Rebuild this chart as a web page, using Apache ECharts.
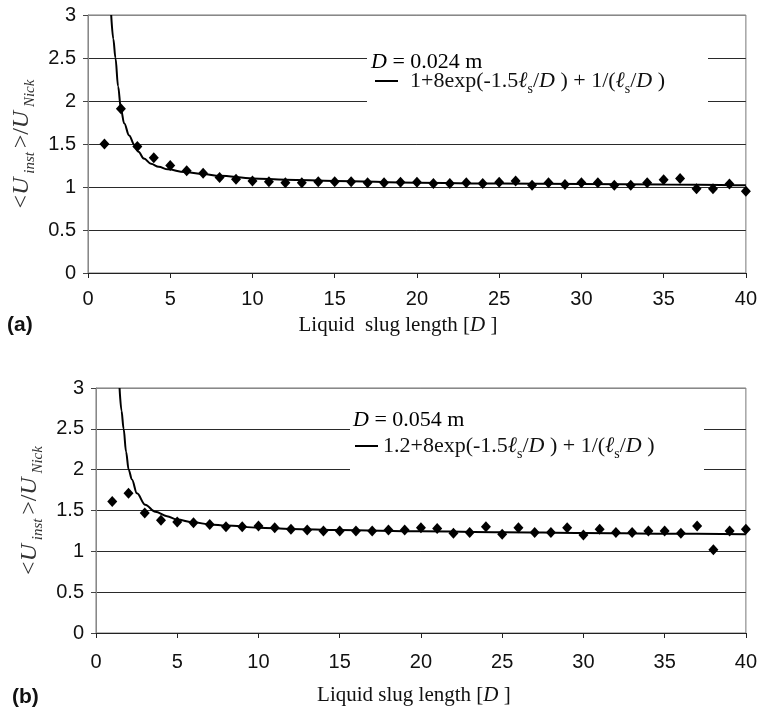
<!DOCTYPE html>
<html>
<head>
<meta charset="utf-8">
<style>
  html, body { margin: 0; padding: 0; background: #fff; }
  #chart { width: 760px; height: 713px; }
</style>
<script src="https://cdn.jsdelivr.net/npm/echarts@6/dist/echarts.min.js"></script>
</head>
<body>
<div id="chart"></div>
<script>
// Liquid slug length in pipe diameters (measurement stations)
const slugLength = [1, 2, 3, 4, 5, 6, 7, 8, 9, 10, 11, 12, 13, 14, 15, 16, 17, 18, 19, 20,
                    21, 22, 23, 24, 25, 26, 27, 28, 29, 30, 31, 32, 33, 34, 35, 36, 37, 38, 39, 40];

// <U_inst>/U_Nick, D = 0.024 m
const ratioA = [1.50, 1.91, 1.47, 1.34, 1.25, 1.19, 1.16, 1.11, 1.09, 1.07,
                1.06, 1.05, 1.05, 1.06, 1.06, 1.06, 1.05, 1.05, 1.055, 1.055,
                1.04, 1.04, 1.05, 1.04, 1.055, 1.07, 1.02, 1.05, 1.03, 1.05,
                1.05, 1.02, 1.02, 1.05, 1.085, 1.10, 0.98, 0.98, 1.035, 0.95];

// <U_inst>/U_Nick, D = 0.054 m
const ratioB = [1.61, 1.71, 1.47, 1.38, 1.36, 1.35, 1.33, 1.30, 1.30, 1.31,
                1.29, 1.27, 1.26, 1.25, 1.25, 1.25, 1.25, 1.26, 1.26, 1.29,
                1.28, 1.22, 1.23, 1.30, 1.21, 1.29, 1.23, 1.23, 1.29, 1.20,
                1.27, 1.23, 1.23, 1.25, 1.25, 1.22, 1.31, 1.02, 1.25, 1.27];

// Correlation curves, sampled along the slug length
const fitA = [[1.41, 3.0], [1.54, 2.72], [1.67, 2.5], [1.83, 2.17], [2.0, 1.91], [2.2, 1.74],
              [2.5, 1.60], [2.82, 1.49], [3.07, 1.41], [3.4, 1.33], [3.83, 1.27], [4.3, 1.235],
              [4.85, 1.205], [5.86, 1.174], [7, 1.15], [8, 1.13], [10, 1.10], [12, 1.085],
              [15, 1.07], [20, 1.05], [25, 1.04], [30, 1.035], [35, 1.03], [40, 1.02]];
const fitB = [[1.45, 3.0], [1.57, 2.72], [1.70, 2.5], [1.85, 2.22], [2.01, 2.0], [2.21, 1.88],
              [2.52, 1.71], [3.03, 1.57], [3.65, 1.485], [4.37, 1.43], [4.98, 1.39], [6.0, 1.355],
              [7.03, 1.33], [8, 1.315], [10, 1.29], [12, 1.275], [15, 1.26], [20, 1.245],
              [25, 1.235], [30, 1.225], [35, 1.215], [40, 1.21]];

// Axis ticks
const xTicks = [0, 5, 10, 15, 20, 25, 30, 35, 40];
const yTicks = [0, 0.5, 1, 1.5, 2, 2.5, 3];

const fitNameA = '1+8exp(-1.5ls/D) + 1/(ls/D)';
const fitNameB = '1.2+8exp(-1.5ls/D) + 1/(ls/D)';

const serif = '"Liberation Serif", "Times New Roman", serif';
const sans = '"Liberation Sans", Arial, sans-serif';

const richMath = {
  n: { fontFamily: serif, fontSize: 22, color: '#111', lineHeight: 30 },
  p: { fontFamily: serif, fontSize: 22, color: '#111', lineHeight: 30, padding: [0, 0, 0, 7] },
  i: { fontFamily: serif, fontSize: 22, fontStyle: 'italic', color: '#111', lineHeight: 30 },
  s: { fontFamily: serif, fontSize: 14, color: '#111', verticalAlign: 'bottom', lineHeight: 14 }
};

function fitLabel(prefix, style) {
  return '{' + style + '|' + prefix + '8exp(-1.5}{i|ℓ}{s|s}{n|/}{i|D}{n| ) + 1/(}{i|ℓ}{s|s}{n|/}{i|D}{n| )}';
}

const yName = '{n|<}{i|U}{s| inst }{n|>/}{i|U}{s| Nick}';
const yNameRich = {
  n: { fontFamily: serif, fontSize: 24, color: '#333', lineHeight: 32 },
  i: { fontFamily: serif, fontSize: 24, fontStyle: 'italic', color: '#333', lineHeight: 32 },
  s: { fontFamily: serif, fontSize: 15, fontStyle: 'italic', color: '#333', verticalAlign: 'bottom', lineHeight: 15 }
};
const xNameRich = {
  n: { fontFamily: serif, fontSize: 21, color: '#111' },
  i: { fontFamily: serif, fontSize: 21, fontStyle: 'italic', color: '#111' }
};

function xAxisOf(gridIndex, gap, shift) {
  return {
    type: 'value', gridIndex: gridIndex,
    min: xTicks[0], max: xTicks[xTicks.length - 1], interval: xTicks[1] - xTicks[0],
    name: '{n|Liquid' + (gridIndex === 0 ? '  ' : ' ') + 'slug length [}{i|D}{n| ]}',
    nameLocation: 'middle', nameGap: gap,
    nameTextStyle: { rich: xNameRich, padding: [0, shift, 0, 0] },
    axisLine: { show: true, onZero: false, lineStyle: { color: '#222', width: 1 } },
    axisTick: { show: true, inside: false, length: 5, lineStyle: { color: '#222' } },
    axisLabel: { fontFamily: sans, fontSize: 20, color: '#111', margin: gridIndex === 0 ? 16 : 19 },
    splitLine: { show: false }
  };
}

function yAxisOf(gridIndex, gap) {
  const colors = yTicks.map((v, k) => (k === yTicks.length - 1 ? '#888' : '#2a2a2a'));
  return {
    type: 'value', gridIndex: gridIndex,
    min: yTicks[0], max: yTicks[yTicks.length - 1], interval: yTicks[1] - yTicks[0],
    name: yName, nameLocation: 'middle', nameRotate: 90, nameGap: gap,
    nameTextStyle: { rich: yNameRich },
    axisLine: { show: true, lineStyle: { color: '#888', width: 1 } },
    axisTick: { show: true, inside: false, length: 5, lineStyle: { color: '#444' } },
    axisLabel: { fontFamily: sans, fontSize: 20, color: '#111', margin: 12 },
    splitLine: { show: true, lineStyle: { color: colors, width: 1 } }
  };
}

function scatterOf(idx, values) {
  return {
    type: 'scatter', xAxisIndex: idx, yAxisIndex: idx,
    data: slugLength.map((x, k) => [x, values[k]]),
    symbol: 'diamond', symbolSize: [10, 11], clip: false,
    itemStyle: { color: '#000', opacity: 1 }, z: 3
  };
}

function lineOf(idx, name, pts) {
  return {
    type: 'line', name: name, xAxisIndex: idx, yAxisIndex: idx,
    data: pts, smooth: 0.35, smoothMonotone: 'x', showSymbol: false, symbol: 'none',
    lineStyle: { color: '#000', width: 2 }, itemStyle: { color: '#000' }, z: 2
  };
}

function legendOf(name, left, top, style) {
  return {
    data: [name], left: left, top: top, padding: 0, orient: 'vertical',
    icon: 'rect', itemWidth: 23, itemHeight: 2, selectedMode: false,
    itemStyle: { color: '#000' },
    formatter: () => fitLabel(name === fitNameA ? '1+' : '1.2+', style),
    textStyle: { rich: richMath }
  };
}

const chart = echarts.init(document.getElementById('chart'), null, { renderer: 'canvas' });

chart.setOption({
  animation: false,
  backgroundColor: '#fff',
  grid: [
    { left: 88, top: 15, width: 660, height: 258, show: true, borderColor: '#777', borderWidth: 1 },
    { left: 96, top: 388, width: 650, height: 245, show: true, borderColor: '#777', borderWidth: 1 }
  ],
  xAxis: [xAxisOf(0, 42, 38), xAxisOf(1, 52, 14)],
  yAxis: [yAxisOf(0, 48), yAxisOf(1, 50)],
  legend: [
    legendOf(fitNameA, 375, 70, 'p'),
    legendOf(fitNameB, 355, 435, 'n')
  ],
  graphic: [
    // white panels behind the legend texts
    { type: 'rect', shape: { x: 367, y: 40, width: 341, height: 70 }, style: { fill: '#fff' }, z: 3, silent: true },
    { type: 'rect', shape: { x: 350, y: 402, width: 354, height: 78 }, style: { fill: '#fff' }, z: 3, silent: true },
    { type: 'text', z: 10, style: {
        x: 371, y: 62, verticalAlign: 'middle', text: '{i|D}{n| = 0.024 m}', rich: richMath } },
    { type: 'text', z: 10, style: {
        x: 353, y: 420, verticalAlign: 'middle', text: '{i|D}{n| = 0.054 m}', rich: richMath } },
    { type: 'text', z: 10, style: {
        x: 7, y: 325, verticalAlign: 'middle', text: '(a)', font: 'bold 21px ' + sans, fill: '#111' } },
    { type: 'text', z: 10, style: {
        x: 12, y: 697, verticalAlign: 'middle', text: '(b)', font: 'bold 21px ' + sans, fill: '#111' } }
  ],
  series: [
    scatterOf(0, ratioA),
    lineOf(0, fitNameA, fitA),
    scatterOf(1, ratioB),
    lineOf(1, fitNameB, fitB)
  ]
});
</script>
</body>
</html>
